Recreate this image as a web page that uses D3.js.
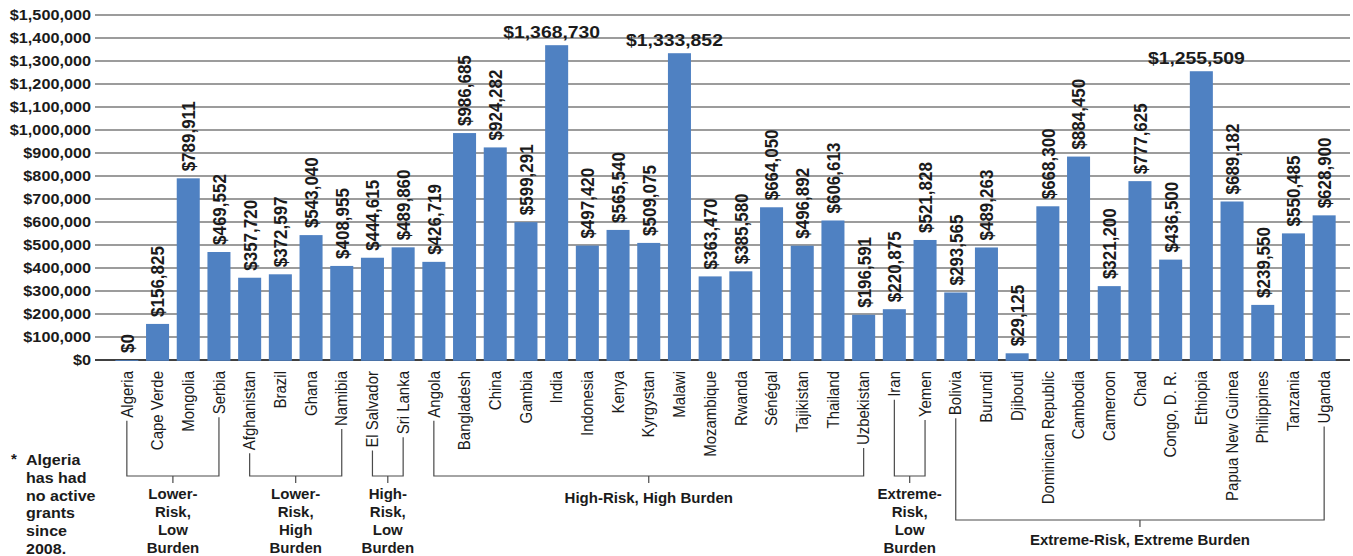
<!DOCTYPE html>
<html>
<head>
<meta charset="utf-8">
<script src="https://cdn.jsdelivr.net/npm/d3@7"></script>
<style>
  html, body { margin: 0; padding: 0; background: #fff; }
  svg { display: block; font-family: "Liberation Sans", Arial, Helvetica, sans-serif; }
</style>
</head>
<body>
<svg id="chart" width="1353" height="556"></svg>
<script>
// Grant funding per country, grouped by risk / burden category
const countries = [
  "Algeria", "Cape Verde", "Mongolia", "Serbia",
  "Afghanistan", "Brazil", "Ghana", "Namibia",
  "El Salvador", "Sri Lanka",
  "Angola", "Bangladesh", "China", "Gambia", "India", "Indonesia", "Kenya",
  "Kyrgystan", "Malawi", "Mozambique", "Rwanda", "Sénégal", "Tajikistan",
  "Thailand", "Uzbekistan",
  "Iran", "Yemen",
  "Bolivia", "Burundi", "Djibouti", "Dominican Republic", "Cambodia",
  "Cameroon", "Chad", "Congo, D. R.", "Ethiopia", "Papua New Guinea",
  "Philippines", "Tanzania", "Uganda"
];
const amounts = [
  0, 156825, 789911, 469552,
  357720, 372597, 543040, 408955,
  444615, 489860,
  426719, 986685, 924282, 599291, 1368730, 497420, 565540,
  509075, 1333852, 363470, 385580, 664050, 496892,
  606613, 196591,
  220875, 521828,
  293565, 489263, 29125, 668300, 884450,
  321200, 777625, 436500, 1255509, 689182,
  239550, 550485, 628900
];
// Countries whose value label is written horizontally above the bar
const horizontalLabels = ["India", "Malawi", "Ethiopia"];

const yTicks = d3.range(0, 1500001, 100000);

const groupNames = [
  ["Lower-", "Risk,", "Low", "Burden"],
  ["Lower-", "Risk,", "High", "Burden"],
  ["High-", "Risk,", "Low", "Burden"],
  ["High-Risk, High Burden"],
  ["Extreme-", "Risk,", "Low", "Burden"],
  ["Extreme-Risk, Extreme Burden"]
];
const groupFirst = ["Algeria", "Afghanistan", "El Salvador", "Angola", "Iran", "Bolivia"];
const groupLast  = ["Serbia", "Namibia", "Sri Lanka", "Uzbekistan", "Yemen", "Uganda"];
const groupLevel = [0, 0, 0, 0, 0, 1];

const footnote = ["Algeria", "has had", "no active", "grants", "since", "2008."];

const svg = d3.select("#chart");
const ink = "#1b1b1b";
const barColor = "#4f81c2";
const wide = 1.12; // horizontal widening applied to the label type

const x = d3.scaleBand()
  .domain(countries)
  .range([111.5, 1339.5])
  .paddingInner(0.25)
  .paddingOuter(0.125);

const y = d3.scaleLinear().domain([0, 1500000]).range([360, 15]);

const gridLeft = 95, gridRight = 1350;
const fmt = d3.format("$,");

// Horizontal grid lines
svg.append("g")
  .selectAll("line")
  .data(yTicks.filter(d => d > 0))
  .join("line")
  .attr("x1", gridLeft).attr("x2", gridRight)
  .attr("y1", d => y(d)).attr("y2", d => y(d))
  .attr("stroke", "#3a3a3a")
  .attr("stroke-width", 1.2);

// Y axis tick labels
svg.append("g")
  .attr("font-size", 14.5)
  .attr("font-weight", "bold")
  .attr("fill", ink)
  .selectAll("text")
  .data(yTicks)
  .join("text")
  .attr("transform", d => `translate(${gridLeft - 4},${y(d)}) scale(${wide},1)`)
  .attr("dy", "0.36em")
  .attr("text-anchor", "end")
  .text(fmt);

// Baseline
svg.append("line")
  .attr("x1", gridLeft).attr("x2", gridRight)
  .attr("y1", y(0)).attr("y2", y(0))
  .attr("stroke", "#000").attr("stroke-width", 1.6);

// Bars
svg.append("g")
  .selectAll("rect")
  .data(countries)
  .join("rect")
  .attr("x", d => x(d))
  .attr("width", x.bandwidth())
  .attr("y", (d, i) => y(amounts[i]))
  .attr("height", (d, i) => y(0) - y(amounts[i]) + 0.8)
  .attr("fill", barColor);

// Value labels
const cx = d => x(d) + x.bandwidth() / 2;
const vg = svg.append("g")
  .attr("font-size", 17)
  .attr("font-weight", "bold")
  .attr("fill", ink);

countries.forEach((c, i) => {
  const v = amounts[i];
  if (horizontalLabels.includes(c)) {
    vg.append("text")
      .attr("transform", `translate(${cx(c) - 5},${y(v) - 7}) scale(1.14,1)`)
      .attr("text-anchor", "middle")
      .text(fmt(v));
  } else {
    vg.append("text")
      .attr("transform", `translate(${cx(c)},${y(v) - 7}) scale(${wide},1) rotate(-90)`)
      .attr("dy", "0.36em")
      .attr("text-anchor", "start")
      .text(fmt(v));
  }
});

// Country labels, rotated below the axis
const labelTop = 371;
const cg = svg.append("g")
  .attr("font-size", 15)
  .attr("fill", ink);
const labelEnd = {};
countries.forEach(c => {
  const t = cg.append("text")
    .attr("transform", `translate(${cx(c)},${labelTop}) scale(1.06,1) rotate(-90)`)
    .attr("dy", "0.36em")
    .attr("text-anchor", "end")
    .text(c);
  labelEnd[c] = labelTop + t.node().getComputedTextLength();
});

// Group brackets and their labels
const bg = svg.append("g");
groupNames.forEach((lines, gi) => {
  const a = groupFirst[gi], b = groupLast[gi];
  const by = groupLevel[gi] === 0 ? 476 : 520;
  const xa = cx(a), xb = cx(b), xm = (xa + xb) / 2;
  const path = d3.path();
  path.moveTo(xa, labelEnd[a] + 3);
  path.lineTo(xa, by);
  path.lineTo(xb, by);
  path.lineTo(xb, labelEnd[b] + 3);
  path.moveTo(xm, by);
  path.lineTo(xm, by + 7);
  bg.append("path")
    .attr("d", path.toString())
    .attr("fill", "none")
    .attr("stroke", "#4a4a4a")
    .attr("stroke-width", 1.2);

  const firstBase = groupLevel[gi] === 0 ? (lines.length > 1 ? 498.5 : 502.5) : 545;
  bg.append("text")
    .attr("font-size", 15)
    .attr("font-weight", "bold")
    .attr("fill", ink)
    .attr("text-anchor", "middle")
    .selectAll("tspan")
    .data(lines)
    .join("tspan")
    .attr("x", xm)
    .attr("y", (d, k) => firstBase + k * 18)
    .text(d => d);
});

// Footnote
svg.append("text")
  .attr("x", 11).attr("y", 464)
  .attr("font-size", 15).attr("font-weight", "bold").attr("fill", ink)
  .text("*");
svg.append("text")
  .attr("font-size", 15).attr("font-weight", "bold").attr("fill", ink)
  .attr("transform", "translate(26,0) scale(1.07,1)")
  .selectAll("tspan")
  .data(footnote)
  .join("tspan")
  .attr("x", 0)
  .attr("y", (d, k) => 465 + k * 17.8)
  .text(d => d);
</script>
</body>
</html>
